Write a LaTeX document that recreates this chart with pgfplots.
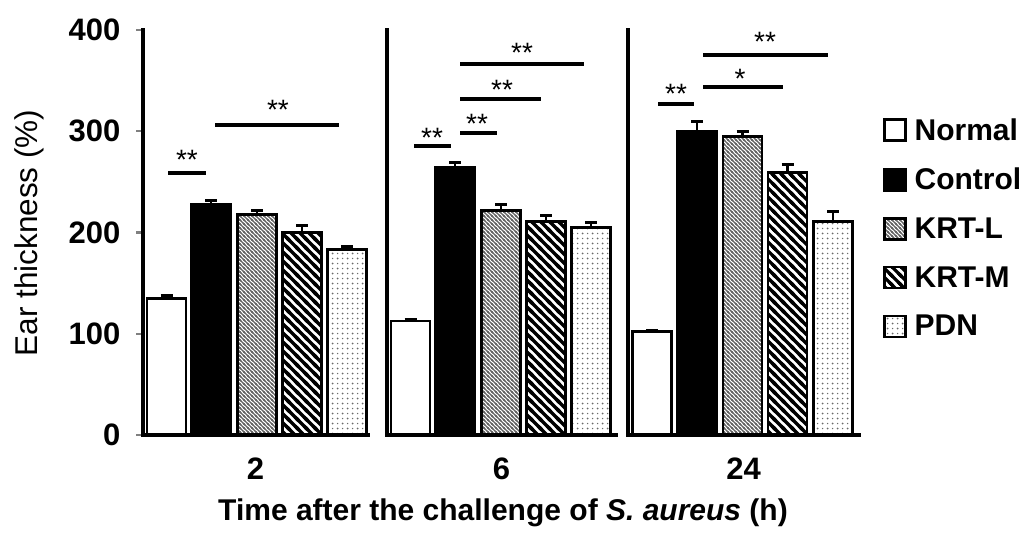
\documentclass[border=0pt]{standalone}
\usepackage{fontspec}
\setmainfont{Liberation Sans}
\usepackage{pgfplots}
\pgfplotsset{compat=1.18}
\usetikzlibrary{patterns}

% bold diagonal "\" stripes, horizontal period 9pt
\pgfdeclarepatternformonly{bigstripes}{\pgfpoint{-2pt}{-2pt}}{\pgfpoint{11pt}{11pt}}{\pgfpoint{9pt}{9pt}}{%
  \pgfsetlinewidth{3.2pt}%
  \pgfpathmoveto{\pgfpoint{-1pt}{10pt}}\pgfpathlineto{\pgfpoint{10pt}{-1pt}}%
  \pgfpathmoveto{\pgfpoint{-2pt}{2pt}}\pgfpathlineto{\pgfpoint{2pt}{-2pt}}%
  \pgfpathmoveto{\pgfpoint{7pt}{11pt}}\pgfpathlineto{\pgfpoint{11pt}{7pt}}%
  \pgfusepath{stroke}}
% fine diagonal "\" stripes, horizontal period 4pt
\pgfdeclarepatternformonly{finestripes}{\pgfpoint{-1pt}{-1pt}}{\pgfpoint{5pt}{5pt}}{\pgfpoint{4pt}{4pt}}{%
  \pgfsetlinewidth{1.3pt}%
  \pgfpathmoveto{\pgfpoint{-0.5pt}{4.5pt}}\pgfpathlineto{\pgfpoint{4.5pt}{-0.5pt}}%
  \pgfpathmoveto{\pgfpoint{-1pt}{1pt}}\pgfpathlineto{\pgfpoint{1pt}{-1pt}}%
  \pgfpathmoveto{\pgfpoint{3pt}{5pt}}\pgfpathlineto{\pgfpoint{5pt}{3pt}}%
  \pgfusepath{stroke}}
% staggered small dots
\pgfdeclarepatternformonly{pdndots}{\pgfpoint{-1pt}{-1pt}}{\pgfpoint{11pt}{11pt}}{\pgfpoint{10pt}{10pt}}{%
  \pgfpathcircle{\pgfpoint{2.5pt}{2.5pt}}{1.0pt}%
  \pgfpathcircle{\pgfpoint{7.5pt}{7.5pt}}{1.0pt}%
  \pgfpathcircle{\pgfpoint{7.5pt}{2.5pt}}{0.75pt}%
  \pgfpathcircle{\pgfpoint{2.5pt}{7.5pt}}{0.75pt}%
  \pgfusepath{fill}}

\pgfplotsset{
  panel/.style={
    scale only axis, height=405pt, ymin=0, ymax=400, xmin=0,
    axis x line*=bottom, axis y line*=left,
    axis line style={-},
    clip=false,
    xtick style={draw=none},
    tick align=outside, major tick length=7pt,
    ytick style={line width=2.2pt},
    tick label style={font=\fontsize{31}{33}\selectfont\bfseries},
    /pgf/number format/assume math mode=true,
    ytick=\empty,
    xticklabel style={yshift=-12pt},
    bar width=39,
  },
  bstyle/.style={ybar, bar shift=0pt, draw=black, line width=2.8pt,
    error bars/y dir=plus, error bars/y explicit,
    error bars/error bar style={line width=2.8pt, solid, black},
    error bars/error mark options={rotate=90, mark size=6pt, line width=2.8pt, black}},
  sNormal/.style={fill=white},
  sControl/.style={fill=black},
  sKRTL/.style={pattern=finestripes, pattern color=black!62},
  sKRTM/.style={pattern=bigstripes, pattern color=black},
  sPDN/.style={pattern=pdndots, pattern color=black!58},
}
\tikzset{sigline/.style={line width=3.2pt}, sigstar/.style={anchor=base, inner sep=0pt, font=\fontsize{28}{30}\selectfont},
  axisframe/.style={line width=3.2pt, line cap=rect}}

\begin{document}
\begin{tikzpicture}
\useasboundingbox (0pt,0pt) rectangle (1024pt,536pt);

% Panel 1 (2 h)
\begin{axis}[panel, at={(143pt,101pt)}, anchor=south west, width=225pt, xmax=225,
  ytick={0,100,200,300,400}, yticklabel style={xshift=-12pt},
  xtick={112.5}, xticklabels={2}]
\addplot[bstyle, sNormal]  coordinates {(23.5,135) +- (0,3)};
\addplot[bstyle, sControl] coordinates {(68,228) +- (0,4)};
\addplot[bstyle, sKRTL]    coordinates {(114,218) +- (0,4)};
\addplot[bstyle, sKRTM]    coordinates {(159,200) +- (0,7)};
\addplot[bstyle, sPDN]     coordinates {(204,183) +- (0,3)};
\draw[axisframe] (rel axis cs:0,1) -- (rel axis cs:0,0) -- (rel axis cs:1,0);
\draw[sigline] (axis cs:25,258.8) -- (axis cs:63,258.8);
\node[sigstar] at (axis cs:44,262) {**};
\draw[sigline] (axis cs:72,306.2) -- (axis cs:196,306.2);
\node[sigstar] at (axis cs:135,312) {**};
\end{axis}

% Panel 2 (6 h)
\begin{axis}[panel, at={(387pt,101pt)}, anchor=south west, width=229pt, xmax=229,
  xtick={114.5}, xticklabels={6}]
\addplot[bstyle, sNormal]  coordinates {(23.5,112.5) +- (0,2)};
\addplot[bstyle, sControl] coordinates {(68,264) +- (0,5)};
\addplot[bstyle, sKRTL]    coordinates {(114,222) +- (0,6)};
\addplot[bstyle, sKRTM]    coordinates {(159,211) +- (0,6)};
\addplot[bstyle, sPDN]     coordinates {(204,205) +- (0,5)};
\draw[axisframe] (rel axis cs:0,1) -- (rel axis cs:0,0) -- (rel axis cs:1,0);
\draw[sigline] (axis cs:27,285.4) -- (axis cs:64,285.4);
\node[sigstar] at (axis cs:45,284) {**};
\draw[sigline] (axis cs:73,298.3) -- (axis cs:110,298.3);
\node[sigstar] at (axis cs:90,298) {**};
\draw[sigline] (axis cs:73,331.9) -- (axis cs:154,331.9);
\node[sigstar] at (axis cs:115,331.5) {**};
\draw[sigline] (axis cs:73,366.4) -- (axis cs:197,366.4);
\node[sigstar] at (axis cs:135,368) {**};
\end{axis}

% Panel 3 (24 h)
\begin{axis}[panel, at={(628pt,101pt)}, anchor=south west, width=231pt, xmax=231,
  xtick={115.5}, xticklabels={24},
  legend style={draw=none, fill=none, inner sep=0pt,
    at={(axis description cs:1.104,0.787)}, anchor=north west,
    font=\fontsize{30}{34}\selectfont\bfseries, row sep=22.5pt,
    /tikz/every odd column/.append style={column sep=6pt}},
  legend cell align=left,
  legend image code/.code={\draw[#1, line width=2.4pt] (0pt,-10.5pt) rectangle (21pt,10.5pt);}]
\addplot[bstyle, sNormal]  coordinates {(24,102.5) +- (0,1)};
\addplot[bstyle, sControl] coordinates {(69,299.5) +- (0,10)};
\addplot[bstyle, sKRTL]    coordinates {(114.5,294.5) +- (0,5)};
\addplot[bstyle, sKRTM]    coordinates {(159.5,259.5) +- (0,8)};
\addplot[bstyle, sPDN]     coordinates {(205,210.5) +- (0,10)};
\draw[axisframe] (rel axis cs:0,1) -- (rel axis cs:0,0) -- (rel axis cs:1,0);
\draw[sigline] (axis cs:30,326.9) -- (axis cs:66,326.9);
\node[sigstar] at (axis cs:48,327) {**};
\draw[sigline] (axis cs:75,343.7) -- (axis cs:155,343.7);
\node[sigstar] at (axis cs:112,342.5) {*};
\draw[sigline] (axis cs:75,375.3) -- (axis cs:200,375.3);
\node[sigstar] at (axis cs:137,378.5) {**};
\legend{Normal, Control, KRT-L, KRT-M, PDN}
\end{axis}

\node[rotate=90, font=\fontsize{31.5}{34}\selectfont] at (29pt,303pt) {Ear thickness (\%)};
\node[anchor=base, font=\fontsize{30}{34}\selectfont\bfseries] at (503pt,16pt) {Time after the challenge of \textit{S. aureus} (h)};
\end{tikzpicture}
\end{document}
